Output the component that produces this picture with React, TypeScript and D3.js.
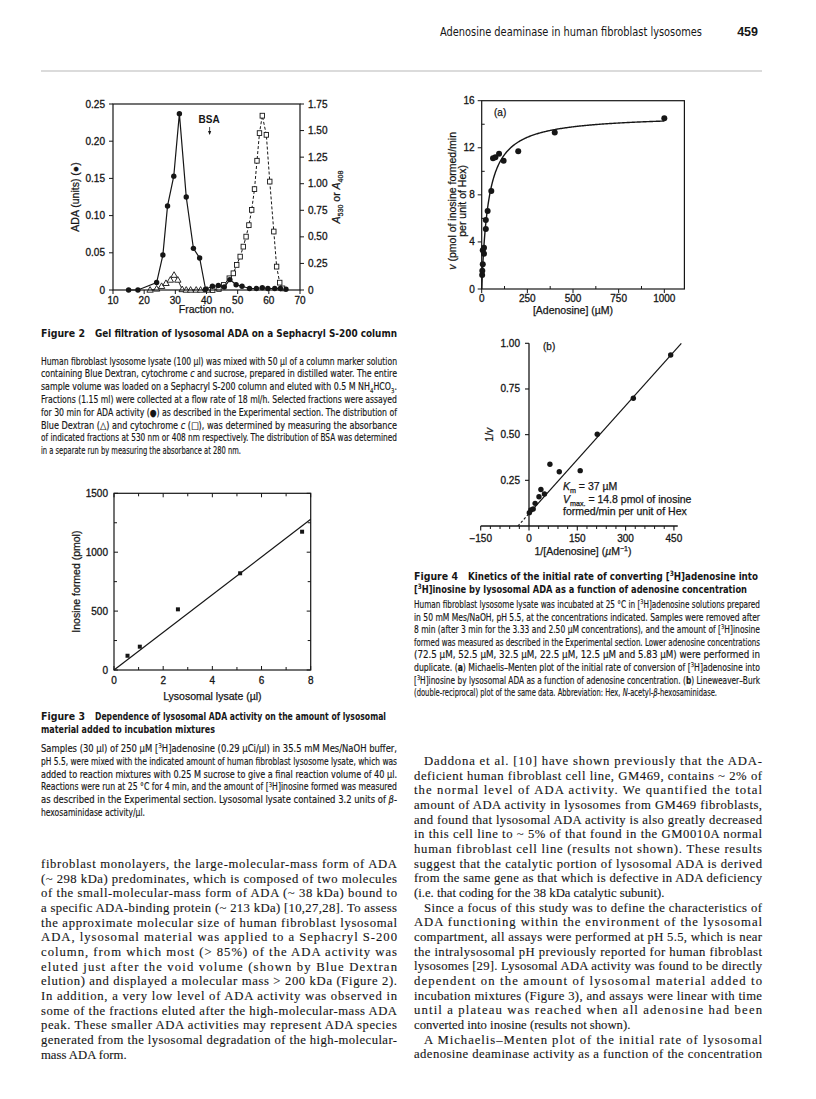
import React from 'react';
import * as d3 from 'd3';

// ---------------- Data ----------------
// Figure 2: gel filtration
const fig2AdaFraction = [15, 18, 24, 26, 27.5, 29.5, 31.3, 33.5, 35.8, 37.8, 39.7, 41.9, 43.8, 45.7, 47.5, 49.5, 51.4, 53.8, 56, 57.9, 59.7, 61.9, 63.7, 65.5];
const fig2AdaUnits = [0, 0, 0.01, 0.047, 0.113, 0.153, 0.237, 0.125, 0.056, 0.043, 0.001, 0.005, 0.006, 0.004, 0.014, 0.007, 0.005, 0.002, 0.002, 0.003, 0.002, 0.002, 0.002, 0.001];
const fig2DextranFraction = [21.9, 24, 25.6, 27, 28.4, 29.6, 30.8, 32.2, 33.5, 34.9, 36.7, 38.1, 40.2];
const fig2DextranA530 = [0, 0.01, 0.035, 0.063, 0.094, 0.14, 0.094, 0.005, 0, 0, 0, 0, 0];
const fig2CytoFraction = [42, 44, 45.5, 47.3, 48.6, 49.7, 50.8, 51.8, 52.7, 53.6, 54.5, 55.4, 56.2, 57.0, 57.9, 59.2, 60.3, 61.6, 62.5, 63.5, 64.4];
const fig2CytoA408 = [0, 0.01, 0.047, 0.11, 0.157, 0.236, 0.314, 0.408, 0.502, 0.61, 0.754, 0.949, 1.216, 1.476, 1.64, 1.46, 1.02, 0.55, 0.22, 0.069, 0.015];
const fig2BsaFraction = 41;
const fig2XTicks = [10, 20, 30, 40, 50, 60, 70];
const fig2YLeftTicks = [0, 0.05, 0.1, 0.15, 0.2, 0.25];
const fig2YRightTicks = [0, 0.25, 0.5, 0.75, 1.0, 1.25, 1.5, 1.75];

// Figure 3: dependence on lysate amount
const fig3Lysate = [0.55, 1.05, 2.6, 5.13, 7.65];
const fig3Inosine = [121, 198, 515, 821, 1174];
const fig3FitSlope = 160; // pmol per µl (fitted line through origin)
const fig3XTicks = [0, 2, 4, 6, 8];
const fig3XMinor = [1, 3, 5, 7];
const fig3YTicks = [0, 500, 1000, 1500];
const fig3YMinor = [250, 750, 1250];

// Figure 4a: Michaelis–Menten
const fig4aConc = [2.5, 3.33, 5.83, 5.83, 12.5, 12.5, 22.5, 22.5, 32.5, 52.5, 62, 75, 95, 120, 200, 400, 1000];
const fig4aRate = [1.19, 1.56, 2.1, 3.3, 3.5, 3.0, 5.86, 5.1, 6.63, 8.33, 11.1, 11.2, 11.5, 10.9, 11.7, 13.3, 14.5];
const fig4Km = 37;
const fig4Vmax = 14.8;
const fig4aXTicks = [0, 250, 500, 750, 1000];
const fig4aXMinor = [125, 375, 625, 875];
const fig4aYTicks = [0, 4, 8, 12, 16];
const fig4aYMinor = [2, 6, 10, 14];

// Figure 4b: Lineweaver–Burk
const fig4bInvConc = [440, 324, 212, 159, 94, 65, 48, 37, 31, 19, 13, 6, 1];
const fig4bInvRate = [0.936, 0.699, 0.502, 0.303, 0.297, 0.338, 0.175, 0.2, 0.16, 0.124, 0.093, 0.088, 0.073];
const fig4bIntercept = 0.068;
const fig4bSlope = 0.00197;
const fig4bXTicks = [-150, 0, 150, 300, 450];
const fig4bXMinor = [-120, -90, -60, -30, 30, 60, 90, 120, 180, 210, 240, 270, 330, 360, 390, 420];
const fig4bYTicks = [0.25, 0.5, 0.75, 1.0];

// Text
const headerTitle = 'Adenosine deaminase in human fibroblast lysosomes';
const headerPage = '459';

const fig2CaptionTitle = 'Gel filtration of lysosomal ADA on a Sephacryl S-200 column';
const fig2CaptionLines = [
  'Human fibroblast lysosome lysate (100 µl) was mixed with 50 µl of a column marker solution',
  'containing Blue Dextran, cytochrome {i}c{/i} and sucrose, prepared in distilled water. The entire',
  'sample volume was loaded on a Sephacryl S-200 column and eluted with 0.5 M NH{sub}4{/sub}HCO{sub}3{/sub}.',
  'Fractions (1.15 ml) were collected at a flow rate of 18 ml/h. Selected fractions were assayed',
  'for 30 min for ADA activity (●) as described in the Experimental section. The distribution of',
  'Blue Dextran (△) and cytochrome {i}c{/i} (□), was determined by measuring the absorbance',
  'of indicated fractions at 530 nm or 408 nm respectively. The distribution of BSA was determined',
  'in a separate run by measuring the absorbance at 280 nm.',
];

const fig3CaptionTitle = ['Dependence of lysosomal ADA activity on the amount of lysosomal', 'material added to incubation mixtures'];
const fig3CaptionLines = [
  'Samples (30 µl) of 250 µM [{sup}3{/sup}H]adenosine (0.29 µCi/µl) in 35.5 mM Mes/NaOH buffer,',
  'pH 5.5, were mixed with the indicated amount of human fibroblast lysosome lysate, which was',
  'added to reaction mixtures with 0.25 M sucrose to give a final reaction volume of 40 µl.',
  'Reactions were run at 25 °C for 4 min, and the amount of [{sup}3{/sup}H]inosine formed was measured',
  'as described in the Experimental section. Lysosomal lysate contained 3.2 units of {i}β{/i}-',
  'hexosaminidase activity/µl.',
];

const fig4CaptionTitle = ['Kinetics of the initial rate of converting [{sup}3{/sup}H]adenosine into', '[{sup}3{/sup}H]inosine by lysosomal ADA as a function of adenosine concentration'];
const fig4CaptionLines = [
  'Human fibroblast lysosome lysate was incubated at 25 °C in [{sup}3{/sup}H]adenosine solutions prepared',
  'in 50 mM Mes/NaOH, pH 5.5, at the concentrations indicated. Samples were removed after',
  '8 min (after 3 min for the 3.33 and 2.50 µM concentrations), and the amount of [{sup}3{/sup}H]inosine',
  'formed was measured as described in the Experimental section. Lower adenosine concentrations',
  '(72.5 µM, 52.5 µM, 32.5 µM, 22.5 µM, 12.5 µM and 5.83 µM) were performed in',
  'duplicate. ({b}a{/b}) Michaelis–Menten plot of the initial rate of conversion of [{sup}3{/sup}H]adenosine into',
  '[{sup}3{/sup}H]inosine by lysosomal ADA as a function of adenosine concentration. ({b}b{/b}) Lineweaver–Burk',
  '(double-reciprocal) plot of the same data. Abbreviation: Hex, {i}N{/i}-acetyl-{i}β{/i}-hexosaminidase.',
];

const leftBodyLines = [
  'fibroblast monolayers, the large-molecular-mass form of ADA',
  '(~ 298 kDa) predominates, which is composed of two molecules',
  'of the small-molecular-mass form of ADA (~ 38 kDa) bound to',
  'a specific ADA-binding protein (~ 213 kDa) [10,27,28]. To assess',
  'the approximate molecular size of human fibroblast lysosomal',
  'ADA, lysosomal material was applied to a Sephacryl S-200',
  'column, from which most (> 85%) of the ADA activity was',
  'eluted just after the void volume (shown by Blue Dextran',
  'elution) and displayed a molecular mass > 200 kDa (Figure 2).',
  'In addition, a very low level of ADA activity was observed in',
  'some of the fractions eluted after the high-molecular-mass ADA',
  'peak. These smaller ADA activities may represent ADA species',
  'generated from the lysosomal degradation of the high-molecular-',
  'mass ADA form.',
];

const rightBodyLines = [
  'Daddona et al. [10] have shown previously that the ADA-',
  'deficient human fibroblast cell line, GM469, contains ~ 2% of',
  'the normal level of ADA activity. We quantified the total',
  'amount of ADA activity in lysosomes from GM469 fibroblasts,',
  'and found that lysosomal ADA activity is also greatly decreased',
  'in this cell line to ~ 5% of that found in the GM0010A normal',
  'human fibroblast cell line (results not shown). These results',
  'suggest that the catalytic portion of lysosomal ADA is derived',
  'from the same gene as that which is defective in ADA deficiency',
  '(i.e. that coding for the 38 kDa catalytic subunit).',
  'Since a focus of this study was to define the characteristics of',
  'ADA functioning within the environment of the lysosomal',
  'compartment, all assays were performed at pH 5.5, which is near',
  'the intralysosomal pH previously reported for human fibroblast',
  'lysosomes [29]. Lysosomal ADA activity was found to be directly',
  'dependent on the amount of lysosomal material added to',
  'incubation mixtures (Figure 3), and assays were linear with time',
  'until a plateau was reached when all adenosine had been',
  'converted into inosine (results not shown).',
  'A Michaelis–Menten plot of the initial rate of lysosomal',
  'adenosine deaminase activity as a function of the concentration',
];
const rightIndented = [0, 10, 19];
const rightParaEnd = [9, 18];

// ---------------- Rendering helpers ----------------
const INK = '#161616';
const SANS = "'Liberation Sans', Arial, Helvetica, sans-serif";
const NARROW = "'Liberation Sans Narrow', 'DejaVu Sans Condensed', 'Liberation Sans', Arial, sans-serif";
const SERIF = "'Liberation Serif', 'Times New Roman', Times, serif";

function parseRich(s: string) {
  const out: { t: string; k: string }[] = [];
  const re = /\{(i|b|sub|sup)\}(.*?)\{\/\1\}/g;
  let last = 0;
  let m: RegExpExecArray | null;
  while ((m = re.exec(s))) {
    if (m.index > last) out.push({ t: s.slice(last, m.index), k: '' });
    out.push({ t: m[2], k: m[1] });
    last = re.lastIndex;
  }
  if (last < s.length) out.push({ t: s.slice(last), k: '' });
  return out;
}

type RichProps = {
  x: number; y: number; text: string; size: number; family?: string; weight?: any;
  anchor?: any; len?: number; adjust?: string; transform?: string; italic?: boolean; bolden?: number;
};
function Rich({ x, y, text, size, family = SANS, weight = 'normal', anchor = 'start', len, adjust = 'spacing', transform, italic, bolden }: RichProps) {
  const segs = parseRich(text);
  let shift = 0;
  const spans = segs.map((sg, i) => {
    const target = sg.k === 'sub' ? size * 0.3 : sg.k === 'sup' ? -size * 0.38 : 0;
    const dy = target - shift;
    shift = target;
    return (
      <tspan key={i} dy={dy !== 0 ? dy : undefined}
        fontStyle={sg.k === 'i' ? 'italic' : undefined}
        fontWeight={sg.k === 'b' ? 'bold' : undefined}
        fontSize={sg.k === 'sub' || sg.k === 'sup' ? size * 0.68 : undefined}>{sg.t}</tspan>
    );
  });
  return (
    <text x={x} y={y} fontSize={size} fontFamily={family} fontWeight={weight} fill={INK}
      stroke={bolden ? INK : undefined} strokeWidth={bolden || undefined}
      textAnchor={anchor} transform={transform} fontStyle={italic ? 'italic' : undefined}
      textLength={len} lengthAdjust={len ? (adjust as any) : undefined}>{spans}</text>
  );
}

const tickFont = 10;
const tickProps = { fontSize: tickFont, fontFamily: SANS, fill: INK, stroke: INK, strokeWidth: 0.3 } as const;
const labelProps = { fontSize: 10.5, fontFamily: SANS, fill: INK, stroke: INK, strokeWidth: 0.25 } as const;

// ---------------- Figure 2 ----------------
function Fig2() {
  const x = d3.scaleLinear().domain([10, 70]).range([113, 300]);
  const yL = d3.scaleLinear().domain([0, 0.25]).range([290, 104]);
  const yR = d3.scaleLinear().domain([0, 1.75]).range([290, 104]);
  const line = d3.line<[number, number]>();
  const ada: [number, number][] = fig2AdaFraction.map((f, i) => [x(f), yL(fig2AdaUnits[i])]);
  const dex: [number, number][] = fig2DextranFraction.map((f, i) => [x(f), yR(fig2DextranA530[i])]);
  const cyt: [number, number][] = fig2CytoFraction.map((f, i) => [x(f), yR(fig2CytoA408[i])]);
  const [x0, x1] = x.range();
  const [yb, yt] = yL.range();
  return (
    <g>
      <path d={line(cyt) || ''} fill="none" stroke={INK} strokeWidth={1} strokeDasharray="3,2" />
      <path d={line(dex) || ''} fill="none" stroke={INK} strokeWidth={0.9} />
      <path d={line(ada) || ''} fill="none" stroke={INK} strokeWidth={1.2} />
      {cyt.map((p, i) => <rect key={'c' + i} x={p[0] - 2.2} y={p[1] - 2.4} width={4.4} height={4.8} fill="#fff" stroke={INK} strokeWidth={0.9} />)}
      {dex.map((p, i) => <path key={'d' + i} d={`M${p[0]},${p[1] - 3.4}L${p[0] + 3.2},${p[1] + 2.2}L${p[0] - 3.2},${p[1] + 2.2}Z`} fill="#fff" stroke={INK} strokeWidth={0.9} />)}
      {ada.map((p, i) => <circle key={'a' + i} cx={p[0]} cy={p[1]} r={2.7} fill={INK} />)}
      <rect x={x0} y={yt} width={x1 - x0} height={yb - yt} fill="none" stroke={INK} strokeWidth={1.2} />
      {fig2XTicks.map(t => (
        <g key={'xt' + t}>
          <line x1={x(t)} x2={x(t)} y1={yb} y2={yb + 4} stroke={INK} strokeWidth={1} />
          <text x={x(t)} y={yb + 13.5} textAnchor="middle" {...tickProps}>{t}</text>
        </g>
      ))}
      {fig2YLeftTicks.map(t => (
        <g key={'yl' + t}>
          <line x1={x0 - 4} x2={x0} y1={yL(t)} y2={yL(t)} stroke={INK} strokeWidth={1} />
          <text x={x0 - 8} y={yL(t) + 3.5} textAnchor="end" {...tickProps}>{t === 0 ? '0' : t.toFixed(2)}</text>
        </g>
      ))}
      {fig2YRightTicks.map(t => (
        <g key={'yr' + t}>
          <line x1={x1} x2={x1 + 4} y1={yR(t)} y2={yR(t)} stroke={INK} strokeWidth={1} />
          <text x={x1 + 8} y={yR(t) + 3.5} textAnchor="start" {...tickProps}>{t === 0 ? '0' : t.toFixed(2)}</text>
        </g>
      ))}
      <text x={(x0 + x1) / 2} y={313} textAnchor="middle" {...labelProps}>Fraction no.</text>
      <Rich x={0} y={0} text="ADA (units) (●)" size={10.5} anchor="middle" bolden={0.25} transform={`translate(79,${(yb + yt) / 2}) rotate(-90)`} />
      <Rich x={0} y={0} text="{i}A{/i}{sub}530{/sub} or {i}A{/i}{sub}408{/sub}" size={10.5} anchor="middle" bolden={0.25} transform={`translate(340,${(yb + yt) / 2}) rotate(-90)`} />
      <text x={x(fig2BsaFraction) - 0.5} y={123} fontSize={10} fontFamily={SANS} fontWeight="bold" textAnchor="middle" fill={INK}>BSA</text>
      <line x1={x(fig2BsaFraction)} x2={x(fig2BsaFraction)} y1={127} y2={134} stroke={INK} strokeWidth={0.8} />
      <path d={`M${x(fig2BsaFraction) - 1.6},${131}L${x(fig2BsaFraction)},${135}L${x(fig2BsaFraction) + 1.6},${131}Z`} fill={INK} />
    </g>
  );
}

// ---------------- Figure 3 ----------------
function Fig3() {
  const x = d3.scaleLinear().domain([0, 8]).range([114, 310.7]);
  const y = d3.scaleLinear().domain([0, 1500]).range([670, 493.3]);
  const [x0, x1] = x.range();
  const [yb, yt] = y.range();
  const fitEnd = 8;
  return (
    <g>
      <rect x={x0} y={yt} width={x1 - x0} height={yb - yt} fill="none" stroke={INK} strokeWidth={1.2} />
      <line x1={x(0)} y1={y(0)} x2={x(fitEnd)} y2={y(fig3FitSlope * fitEnd)} stroke={INK} strokeWidth={1.2} />
      {fig3Lysate.map((v, i) => <rect key={i} x={x(v) - 2} y={y(fig3Inosine[i]) - 2} width={4} height={4} fill={INK} />)}
      {fig3XTicks.map(t => (
        <g key={'x' + t}>
          <line x1={x(t)} x2={x(t)} y1={yb} y2={yb - 4} stroke={INK} />
          <line x1={x(t)} x2={x(t)} y1={yt} y2={yt + 4} stroke={INK} />
          <text x={x(t)} y={yb + 14} textAnchor="middle" {...tickProps}>{t}</text>
        </g>
      ))}
      {fig3XMinor.map(t => (
        <g key={'xm' + t}>
          <line x1={x(t)} x2={x(t)} y1={yb} y2={yb - 3} stroke={INK} />
          <line x1={x(t)} x2={x(t)} y1={yt} y2={yt + 3} stroke={INK} />
        </g>
      ))}
      {fig3YTicks.map(t => (
        <g key={'y' + t}>
          <line x1={x0} x2={x0 + 4} y1={y(t)} y2={y(t)} stroke={INK} />
          <line x1={x1} x2={x1 - 4} y1={y(t)} y2={y(t)} stroke={INK} />
          <text x={x0 - 6} y={y(t) + 3.5} textAnchor="end" {...tickProps}>{t}</text>
        </g>
      ))}
      {fig3YMinor.map(t => (
        <g key={'ym' + t}>
          <line x1={x0} x2={x0 + 3} y1={y(t)} y2={y(t)} stroke={INK} />
          <line x1={x1} x2={x1 - 3} y1={y(t)} y2={y(t)} stroke={INK} />
        </g>
      ))}
      <text x={(x0 + x1) / 2} y={700} textAnchor="middle" {...labelProps}>Lysosomal lysate (µl)</text>
      <text transform={`translate(80,${(yb + yt) / 2}) rotate(-90)`} textAnchor="middle" {...labelProps}>Inosine formed (pmol)</text>
    </g>
  );
}

// ---------------- Figure 4a ----------------
function Fig4a() {
  const x = d3.scaleLinear().domain([0, 1110]).range([481.7, 684.4]);
  const y = d3.scaleLinear().domain([0, 16]).range([289, 100.7]);
  const [x0, x1] = x.range();
  const [yb, yt] = y.range();
  const sVals = d3.range(0, 20, 0.25).concat(d3.range(20, 1000.1, 4));
  const curve = d3.line<number>().x(s => x(s)).y(s => y((fig4Vmax * s) / (fig4Km + s)))(sVals) || '';
  return (
    <g>
      <rect x={x0} y={yt} width={x1 - x0} height={yb - yt} fill="none" stroke={INK} strokeWidth={1.2} />
      <path d={curve} fill="none" stroke={INK} strokeWidth={1.4} />
      {fig4aConc.map((c, i) => <circle key={i} cx={x(c)} cy={y(fig4aRate[i])} r={3} fill={INK} />)}
      {fig4aXTicks.map(t => (
        <g key={'x' + t}>
          <line x1={x(t)} x2={x(t)} y1={yb} y2={yb + 4} stroke={INK} />
          <text x={x(t)} y={yb + 13} textAnchor="middle" {...tickProps}>{t}</text>
        </g>
      ))}
      {fig4aXMinor.map(t => <line key={'xm' + t} x1={x(t)} x2={x(t)} y1={yb} y2={yb - 3} stroke={INK} />)}
      {fig4aYTicks.map(t => (
        <g key={'y' + t}>
          <line x1={x0 - 4} x2={x0} y1={y(t)} y2={y(t)} stroke={INK} />
          <text x={x0 - 7} y={y(t) + 3.5} textAnchor="end" {...tickProps}>{t}</text>
        </g>
      ))}
      {fig4aYMinor.map(t => <line key={'ym' + t} x1={x0} x2={x0 + 3} y1={y(t)} y2={y(t)} stroke={INK} />)}
      <text x={494} y={116} fontSize={10} fontFamily={SANS} fill={INK} stroke={INK} strokeWidth={0.25}>(a)</text>
      <text x={x(500)} y={314} textAnchor="middle" {...labelProps}>[Adenosine] (µM)</text>
      <g transform={`translate(456,${(yb + yt) / 2 + 6}) rotate(-90)`}>
        <text x={0} y={0} textAnchor="middle" {...labelProps}><tspan fontStyle="italic">v</tspan> (pmol of inosine formed/min</text>
        <text x={0} y={10} textAnchor="middle" {...labelProps}>per unit of Hex)</text>
      </g>
    </g>
  );
}

// ---------------- Figure 4b ----------------
function Fig4b() {
  const x = d3.scaleLinear().domain([-150, 450]).range([480.7, 673.9]);
  const y = d3.scaleLinear().domain([0, 1]).range([526, 343.3]);
  const y0 = y(0);
  const xInt = -fig4bIntercept / fig4bSlope;
  const xEnd = (1.0 - fig4bIntercept) / fig4bSlope;
  return (
    <g>
      <line x1={x(-150)} x2={x(462)} y1={y0} y2={y0} stroke={INK} strokeWidth={1.3} />
      <line x1={x(0)} x2={x(0)} y1={y0} y2={y(1)} stroke={INK} strokeWidth={1.3} />
      {fig4bXTicks.map(t => (
        <g key={'x' + t}>
          <line x1={x(t)} x2={x(t)} y1={y0} y2={y0 + 4.5} stroke={INK} strokeWidth={1.1} />
          <text x={x(t)} y={y0 + 16} textAnchor="middle" {...tickProps}>{t < 0 ? '−' + Math.abs(t) : t}</text>
        </g>
      ))}
      {fig4bXMinor.map(t => <line key={'xm' + t} x1={x(t)} x2={x(t)} y1={y0} y2={y0 + 3} stroke={INK} strokeWidth={1} />)}
      {fig4bYTicks.map(t => (
        <g key={'y' + t}>
          <line x1={x(0) - 4} x2={x(0)} y1={y(t)} y2={y(t)} stroke={INK} strokeWidth={1.1} />
          <text x={x(0) - 9} y={y(t) + 3.5} textAnchor="end" {...tickProps}>{t.toFixed(2)}</text>
        </g>
      ))}
      <line x1={x(xInt)} y1={y(0)} x2={x(0)} y2={y(fig4bIntercept)} stroke={INK} strokeWidth={1.1} strokeDasharray="2.5,2" />
      <line x1={x(0)} y1={y(fig4bIntercept)} x2={x(xEnd)} y2={y(1.0)} stroke={INK} strokeWidth={1.2} />
      {fig4bInvConc.map((c, i) => <circle key={i} cx={x(c)} cy={y(fig4bInvRate[i])} r={2.7} fill={INK} />)}
      <text x={543} y={350} fontSize={10} fontFamily={SANS} fill={INK} stroke={INK} strokeWidth={0.25}>(b)</text>
      <text transform={`translate(493,${y(0.5)}) rotate(-90)`} textAnchor="middle" {...labelProps}>1/<tspan fontStyle="italic">v</tspan></text>
      <text x={583} y={555} textAnchor="middle" {...labelProps}>1/[Adenosine] (<tspan fontStyle="italic">µ</tspan>M<tspan dy={-4} fontSize={7}>−1</tspan><tspan dy={4}>)</tspan></text>
      <Rich x={563} y={490} size={10.5} bolden={0.25} text={'{i}K{/i}{sub}m{/sub} = 37 µM'} />
      <Rich x={563} y={503} size={10.5} bolden={0.25} text={'{i}V{/i}{sub}max.{/sub} = 14.8 pmol of inosine'} />
      <Rich x={563} y={515} size={10.5} bolden={0.25} text={'formed/min per unit of Hex'} />
    </g>
  );
}

// ---------------- Captions & body text ----------------
const LC = { x0: 41, x1: 397 };
const RCAP = { x0: 414, x1: 760 };
const RC = { x0: 414, x1: 762 };

function Caption({ col, num, titleLines, titleY, lines, bodyY, titleLast, lastLen, lh = 12.8 }: any) {
  const w = col.x1 - col.x0;
  const gapX = col.x0 + 54;
  return (
    <g>
      <Rich x={col.x0} y={titleY} text={`Figure ${num}`} size={10.8} family={NARROW} weight="bold" len={44} adjust="spacingAndGlyphs" />
      {titleLines.map((t: string, i: number) => (
        i === 0
          ? <Rich key={i} x={gapX} y={titleY} text={t} size={10.8} family={NARROW} weight="bold" len={titleLast[0] - gapX} adjust="spacingAndGlyphs" />
          : <Rich key={i} x={col.x0} y={titleY + 12.7 * i} text={t} size={10.8} family={NARROW} weight="bold" len={titleLast[i] - col.x0} adjust="spacingAndGlyphs" />
      ))}
      {lines.map((t: string, i: number) => (
        <Rich key={'l' + i} x={col.x0} y={bodyY + lh * i} text={t} size={9.8} family={NARROW} bolden={0.15}
          len={i === lines.length - 1 ? lastLen : w} adjust="spacingAndGlyphs" />
      ))}
    </g>
  );
}

function Body() {
  const lh = 14.67;
  const ly0 = 868;
  const ry0 = 765;
  return (
    <g>
      {leftBodyLines.map((t, i) => (
        <Rich key={'L' + i} x={LC.x0} y={ly0 + lh * i} text={t} size={12.7} family={SERIF} bolden={0.12}
          len={i === leftBodyLines.length - 1 ? undefined : LC.x1 - LC.x0} />
      ))}
      {rightBodyLines.map((t, i) => {
        const ind = rightIndented.includes(i) ? 10 : 0;
        const last = rightParaEnd.includes(i);
        return (
          <Rich key={'R' + i} x={RC.x0 + ind} y={ry0 + lh * i} text={t} size={12.7} family={SERIF} bolden={0.12}
            len={last ? undefined : RC.x1 - RC.x0 - ind} />
        );
      })}
    </g>
  );
}

export default function App() {
  return (
    <svg width={816} height={1099} viewBox="0 0 816 1099" style={{ position: 'absolute', left: 0, top: 0, background: '#fff' }}>
      <rect x={0} y={0} width={816} height={1099} fill="#fff" />
      {/* header */}
      <text x={440} y={36} fontSize={12.5} fontFamily={NARROW} fill={INK} textLength={262} lengthAdjust="spacingAndGlyphs">{headerTitle}</text>
      <text x={758} y={36} fontSize={12.5} fontFamily={SANS} fontWeight="bold" fill={INK} textAnchor="end">{headerPage}</text>
      <line x1={41} x2={762} y1={71} y2={71} stroke="#9a9a9a" strokeWidth={0.7} />

      <Fig2 />
      <Caption col={LC} num={2} titleLines={[fig2CaptionTitle]} titleLast={[397]} titleY={337} lines={fig2CaptionLines} bodyY={364.5} lastLen={200} />

      <Fig3 />
      <Caption col={LC} num={3} titleLines={fig3CaptionTitle} titleLast={[386, 215]} titleY={720} lines={fig3CaptionLines} bodyY={752} lastLen={104} />

      <Fig4a />
      <Fig4b />
      <Caption col={RCAP} num={4} titleLines={fig4CaptionTitle} titleLast={[758, 747]} titleY={580} lines={fig4CaptionLines} bodyY={608} lastLen={303} lh={12.6} />

      <Body />
    </svg>
  );
}
